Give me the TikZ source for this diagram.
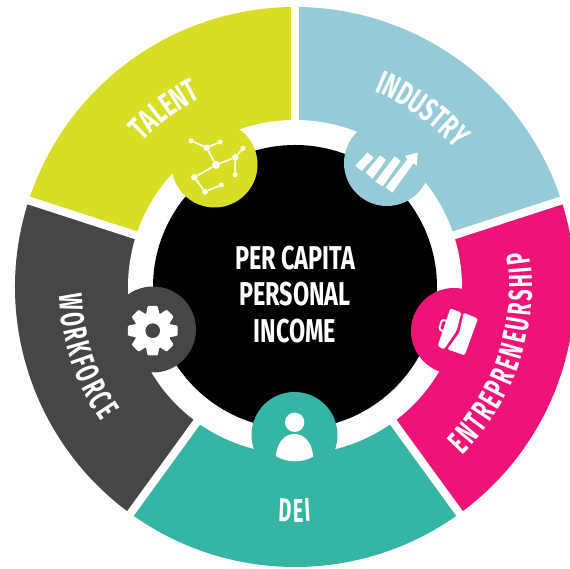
\documentclass[tikz,border=0pt]{standalone}
\usepackage{fontspec}
\usetikzlibrary{calc,decorations.text}
\newfontfamily\capsfam[FakeStretch=.71]{Fira Sans}
\newfontfamily\arcfam[FakeStretch=.66]{Fira Sans}
\newfontfamily\arcnarrow[FakeStretch=.6]{Fira Sans}
\newcommand\arclabfont{\arcfam\bfseries\fontsize{33}{33}\selectfont\color{white}}
\newcommand\arcnarrowfont{\arcnarrow\bfseries\fontsize{33}{33}\selectfont\color{white}}
\definecolor{lime}{HTML}{D8DE26}
\definecolor{skyb}{HTML}{95CBD6}
\definecolor{pinkc}{HTML}{EF1277}
\definecolor{grayc}{HTML}{464646}
\definecolor{tealc}{HTML}{36B4A4}
\tikzset{
  gapline/.style={white,line width=8pt},
  badge/.style={circle,minimum size=86pt,inner sep=0pt,draw=none},
  arclabel/.style={decorate,decoration={text along path,text align={center},text={|\arclabfont|#1}}},
  arcfit/.style={decorate,decoration={text along path,text align={fit to path},text={|\arcnarrowfont|#1}}},
  netdot/.style={circle,fill=white,inner sep=0pt,minimum size=#1},
  netline/.style={white,line width=1.6pt},
  iconfill/.style={fill=white,draw=none}
}
\begin{document}
\begin{tikzpicture}[x=1pt,y=1pt]
\useasboundingbox (0,0) rectangle (570,569);
\coordinate (c) at (295,282);
% sectors
\fill[lime] (c) -- ($(c)+(162:280)$) arc[start angle=162,end angle=90,radius=280] -- cycle;
\fill[skyb] (c) -- ($(c)+(90:280)$) arc[start angle=90,end angle=18,radius=280] -- cycle;
\fill[pinkc] (c) -- ($(c)+(18:280)$) arc[start angle=18,end angle=-54,radius=280] -- cycle;
\fill[tealc] (c) -- ($(c)+(-54:280)$) arc[start angle=-54,end angle=-126,radius=280] -- cycle;
\fill[grayc] (c) -- ($(c)+(-126:280)$) arc[start angle=-126,end angle=-198,radius=280] -- cycle;
% gaps
\foreach \a in {90,18,-54,-126,162} \draw[gapline] (c) -- ($(c)+(\a:300)$);
\fill[white] (c) circle[radius=167];
\fill[black] (c) circle[radius=142];
% badges
\node[badge,fill=lime] (talentb) at (214.5,404.5) {};
\node[badge,fill=skyb] (industryb) at (387,406) {};
\node[badge,fill=pinkc] (entb) at (454,238) {};
\node[badge,fill=grayc] (workb) at (153,239.5) {};
\node[badge,fill=tealc] (deib) at (294.5,134) {};
% network icon
\begin{scope}[shift={(150,459)},x=.33333pt,y=-.33333pt]
\node[netdot=5pt] (na) at (123,92) {};
\node[netdot=6.5pt] (nb) at (170,113) {};
\node[netdot=5pt] (nc) at (210,96) {};
\node[netdot=8pt] (nd) at (198,165) {};
\node[netdot=6.5pt] (ne) at (256,142) {};
\node[netdot=5pt] (nf) at (279,115) {};
\node[netdot=5pt] (ng) at (255,194) {};
\node[netdot=6.5pt] (nh) at (133,202) {};
\node[netdot=6pt] (ni) at (165,245) {};
\node[netdot=5pt] (nj) at (214,225) {};
\draw[netline] (na)--(nb) (nb)--(nc) (nb)--(nd) (nd)--(ne) (ne)--(nf) (ne)--(ng) (nd)--(nh) (nh)--(ni) (ni)--(nj);
% chart icon
\fill[iconfill] (616,167)--(652,128)--(671,143)--(635,183)--cycle;
\fill[iconfill] (647,188)--(690,136)--(708,150)--(668,206)--cycle;
\fill[iconfill] (676,215)--(734,139)--(752,153)--(698,229)--cycle;
\fill[iconfill] (707,232)--(772,148)--(765,138)--(803,128)--(800,167)--(790,160)--(727,248)--cycle;
\end{scope}
% gear icon
\begin{scope}[shift={(152.7,238.3)}]
\fill[white] (0,0) circle[radius=18.5];
\foreach \a in {0,45,...,315}
  \fill[white,rotate=\a,rounded corners=1pt] (15,-7) -- (24.8,-5) -- (24.8,5) -- (15,7) -- cycle;
\fill[grayc] (0,0) circle[radius=7.3];
\end{scope}
% briefcase icon
\begin{scope}[shift={(390,299)},x=.33333pt,y=-.33333pt]
\fill[iconfill,rounded corners=1.5pt] (181,115)--(214,128)--(200,182)--(162,238)--(143,228)--cycle;
\fill[iconfill,rounded corners=1.5pt] (221,128)--(264,146)--(224,256)--(172,238)--(208,188)--cycle;
\draw[white,line width=1.8pt,rounded corners=1.5pt] (172,153)--(156,149)--(147,178)--(163,185);
\end{scope}
% person icon
\begin{scope}[shift={(230,189)},x=.33333pt,y=-.33333pt]
\fill[white] (194,127) circle[radius=29];
\fill[white] (137,228) .. controls (142,185) and (165,162) .. (193,162) .. controls (222,162) and (245,185) .. (250,230) .. controls (215,249) and (172,249) .. (137,228) -- cycle;
\end{scope}
% labels
\path[arclabel={TALENT}] ($(c)+(146:211)$) arc[start angle=146,end angle=106.8,radius=211];
\path[arclabel={INDUSTRY}] ($(c)+(80:211)$) arc[start angle=80,end angle=28.7,radius=211];
\path[arcfit={ENTREPRENEURSHIP}] ($(c)+(-45.2:237)$) arc[start angle=-45.2,end angle=8.5,radius=237];
\path[arcfit={DEI}] ($(c)+(266:235)$) arc[start angle=266,end angle=274,radius=235];
\path[arcfit={WORKFORCE}] ($(c)+(181.9:236)$) arc[start angle=181.9,end angle=214.7,radius=236];
\node[align=center,text=white,font=\capsfam\bfseries\fontsize{33}{36.7}\selectfont,inner sep=0pt] (title) at (295,274.5) {PER CAPITA\\PERSONAL\\INCOME};
\end{tikzpicture}
\end{document}
